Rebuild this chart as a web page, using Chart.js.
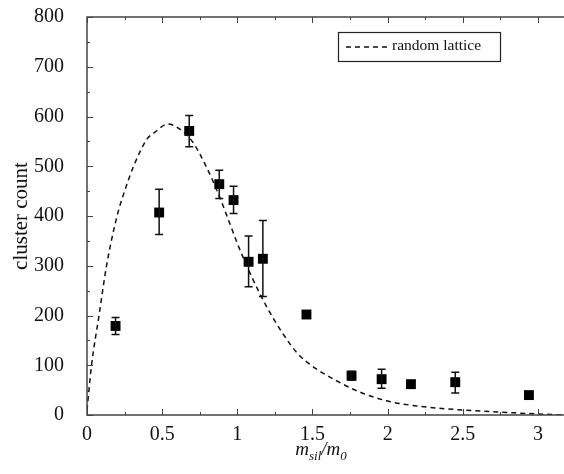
<!DOCTYPE html>
<html>
<head>
<meta charset="utf-8">
<script src="https://cdn.jsdelivr.net/npm/chart.js@4"></script>
<style>
  body { margin:0; background:#fff; overflow:hidden; }
  #wrap { width:575px; height:474px; }
</style>
</head>
<body>
<div id="wrap"><canvas id="c" width="575" height="474"></canvas></div>
<script>
// random lattice curve
const curveX = [0, 0.03, 0.08, 0.13, 0.2, 0.25, 0.31, 0.4, 0.45, 0.54, 0.6, 0.7, 0.8, 0.88, 0.95, 1.0, 1.1, 1.2, 1.3, 1.4, 1.5, 1.6, 1.8, 2.0, 2.2, 2.5, 2.8, 3.0, 3.2];
const curveY = [10, 100, 200, 300, 400, 450, 500, 555, 568, 585, 578, 550, 495, 440, 385, 345, 275, 215, 165, 124, 98, 79, 48, 28, 18, 10, 5, 2, 0];

// measured cluster counts with error bars (null = no bar drawn)
const ptX    = [0.19, 0.48, 0.68, 0.88, 0.975, 1.075, 1.17, 1.46, 1.76, 1.96, 2.155, 2.45, 2.94];
const ptY    = [179, 407, 571, 464, 432, 308, 314, 202, 79, 72, 62, 66, 40];
const errLow = [162, 363, 539, 435, 405, 258, 238, null, 70, 54, null, 44, null];
const errHigh= [196, 454, 602, 492, 460, 360, 391, null, 88, 92, null, 86, null];

const xTicks = [0, 0.5, 1, 1.5, 2, 2.5, 3];
const xMinor = [0.25, 0.75, 1.25, 1.75, 2.25, 2.75];
const yTicks = [0, 100, 200, 300, 400, 500, 600, 700, 800];
const yMinor = [50, 150, 250, 350, 450, 550, 650, 750];

const SERIF = '"Liberation Serif", "Times New Roman", serif';
const INK = '#111';

const extras = {
  id: 'extras',
  afterDatasetsDraw(chart) {
    const {ctx, chartArea: a, scales: {x, y}} = chart;
    ctx.save();
    // error bars
    ctx.strokeStyle = INK; ctx.lineWidth = 1.5;
    ptX.forEach((v, i) => {
      if (errLow[i] == null) return;
      const px = x.getPixelForValue(v);
      const lo = y.getPixelForValue(errLow[i]), hi = y.getPixelForValue(errHigh[i]);
      ctx.beginPath();
      ctx.moveTo(px, lo); ctx.lineTo(px, hi);
      ctx.moveTo(px - 4, lo); ctx.lineTo(px + 4, lo);
      ctx.moveTo(px - 4, hi); ctx.lineTo(px + 4, hi);
      ctx.stroke();
    });
    // frame (right side is cut off in the original) + inward ticks
    ctx.strokeStyle = '#444'; ctx.lineWidth = 1.5;
    ctx.beginPath();
    ctx.moveTo(a.right, a.top); ctx.lineTo(a.left, a.top);
    ctx.lineTo(a.left, a.bottom); ctx.lineTo(a.right, a.bottom);
    ctx.stroke();
    ctx.lineWidth = 1;
    ctx.beginPath();
    xTicks.concat(xMinor).forEach(v => {
      const len = xTicks.includes(v) ? 6 : 3;
      const px = Math.round(x.getPixelForValue(v)) + 0.5;
      ctx.moveTo(px, a.bottom); ctx.lineTo(px, a.bottom - len);
      ctx.moveTo(px, a.top); ctx.lineTo(px, a.top + len);
    });
    yTicks.concat(yMinor).forEach(v => {
      const len = yTicks.includes(v) ? 6 : 3;
      const py = Math.round(y.getPixelForValue(v)) + 0.5;
      ctx.moveTo(a.left, py); ctx.lineTo(a.left + len, py);
    });
    ctx.stroke();
    // legend box
    ctx.strokeStyle = '#222'; ctx.lineWidth = 1.2;
    ctx.strokeRect(338.5, 32.5, 162, 29);
    ctx.strokeStyle = INK; ctx.lineWidth = 1.5; ctx.setLineDash([5, 4]);
    ctx.beginPath(); ctx.moveTo(346, 47); ctx.lineTo(388, 47); ctx.stroke();
    ctx.setLineDash([]);
    ctx.fillStyle = INK; ctx.font = '15.5px ' + SERIF;
    ctx.textBaseline = 'middle'; ctx.textAlign = 'left';
    ctx.fillText(chart.data.datasets[0].label, 392, 46);
    // x axis title m_sil / m_0
    const parts = [['m', 19, 0], ['sil', 13, 5], ['/m', 19, 0], ['0', 13, 5]];
    ctx.textBaseline = 'alphabetic';
    let w = 0;
    parts.forEach(p => { ctx.font = 'italic ' + p[1] + 'px ' + SERIF; w += ctx.measureText(p[0]).width; });
    let cx = 321 - w / 2;
    parts.forEach(p => {
      ctx.font = 'italic ' + p[1] + 'px ' + SERIF;
      ctx.fillText(p[0], cx, 455 + p[2]);
      cx += ctx.measureText(p[0]).width;
    });
    ctx.restore();
  }
};

const noPad = s => { s.paddingTop = 0; s.paddingBottom = 0; s.paddingLeft = 0; s.paddingRight = 0; };

new Chart(document.getElementById('c'), {
  type: 'scatter',
  data: {
    datasets: [
      {
        label: 'random lattice',
        type: 'line',
        data: curveX.map((v, i) => ({x: v, y: curveY[i]})),
        borderColor: INK, borderWidth: 1.5, borderDash: [5, 4],
        pointRadius: 0, fill: false, cubicInterpolationMode: 'monotone'
      },
      {
        label: 'data',
        data: ptX.map((v, i) => ({x: v, y: ptY[i]})),
        pointStyle: 'rect', pointRadius: 7,
        backgroundColor: '#000', borderColor: '#000', borderWidth: 0
      }
    ]
  },
  options: {
    responsive: false, animation: false,
    layout: { padding: { left: 0, top: 17, right: 3, bottom: 0 } },
    plugins: { legend: { display: false }, tooltip: { enabled: false } },
    scales: {
      x: {
        type: 'linear', min: 0, max: 3.2,
        grid: { display: false }, border: { display: false },
        afterBuildTicks: s => { s.ticks = xTicks.map(v => ({value: v})); },
        afterFit: s => { s.height = 59; noPad(s); },
        ticks: { color: INK, padding: 0, maxRotation: 0, callback: v => String(v), font: { family: SERIF, size: 20 } }
      },
      y: {
        min: 0, max: 800,
        grid: { display: false }, border: { display: false },
        afterBuildTicks: s => { s.ticks = yTicks.map(v => ({value: v})); },
        afterFit: s => { s.width = 87; noPad(s); },
        ticks: { color: INK, padding: 15, callback: v => String(v), font: { family: SERIF, size: 20 } },
        title: { display: true, text: 'cluster count', color: INK, padding: { top: 9, bottom: 0 }, font: { family: SERIF, size: 21 } }
      }
    }
  },
  plugins: [extras]
});
</script>
</body>
</html>
